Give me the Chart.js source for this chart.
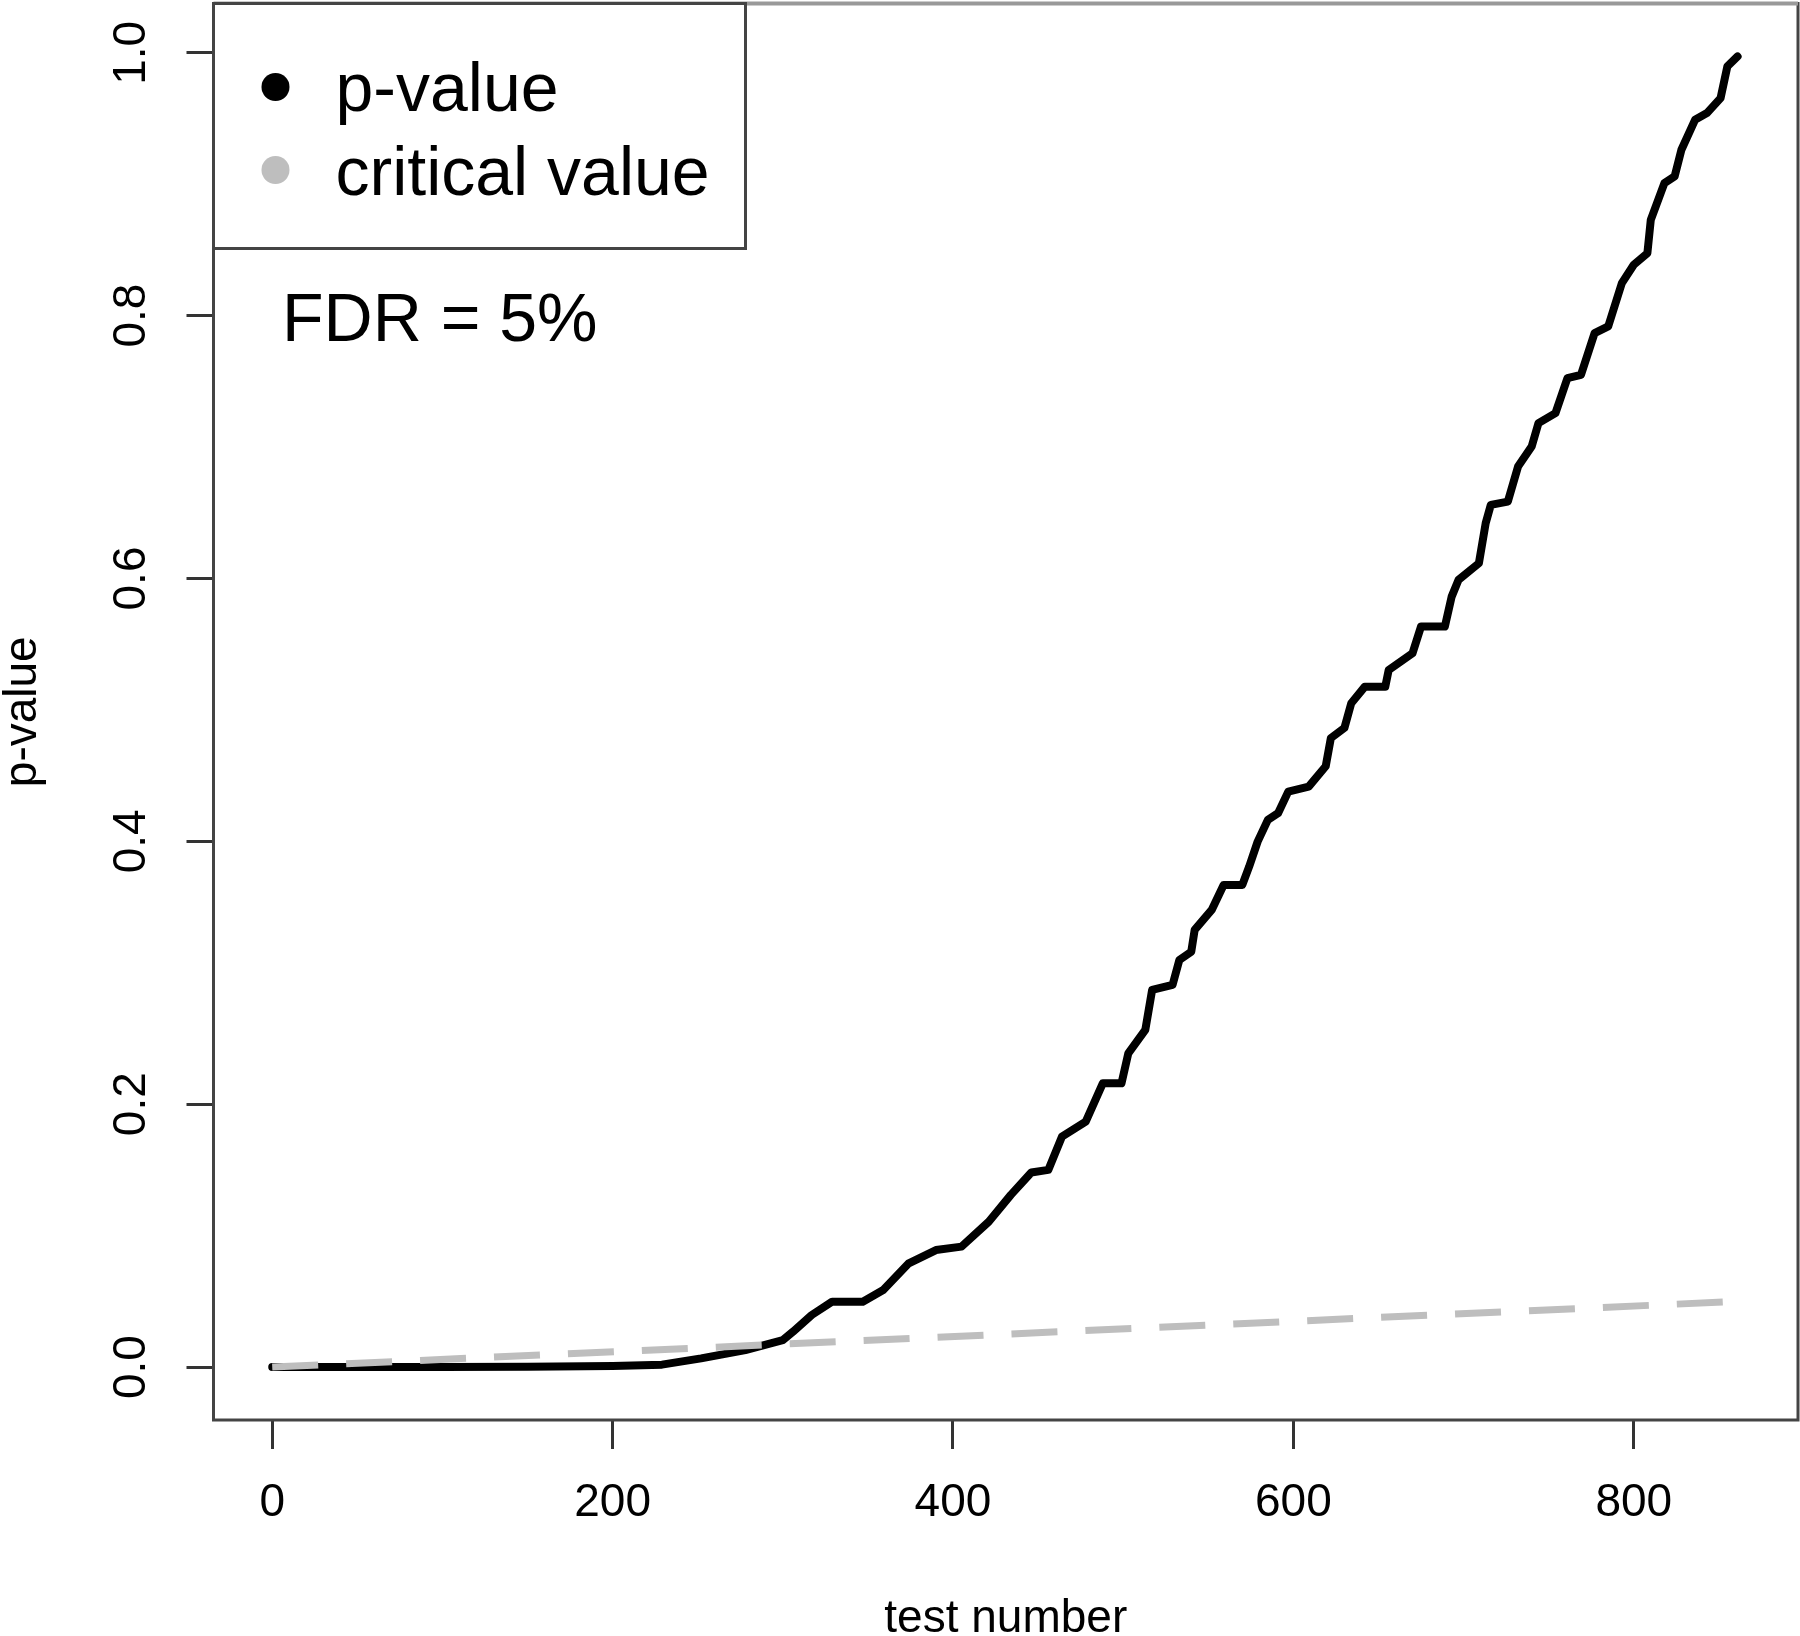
<!DOCTYPE html>
<html>
<head>
<meta charset="utf-8">
<script src="https://cdn.jsdelivr.net/npm/chart.js@4.4.1/dist/chart.umd.min.js"></script>
<style>
  html, body { margin: 0; padding: 0; background: #fff; }
  #wrap { width: 1800px; height: 1636px; }
</style>
</head>
<body>
<div id="wrap"><canvas id="chart" width="1800" height="1636"></canvas></div>
<script>
// sorted p-values
const testNumber = [0, 50, 100, 150, 200, 229, 252, 278, 300, 306, 317, 329, 347, 359, 374, 390, 405, 421, 434, 446, 456, 464, 478, 488, 499, 503, 513, 517, 529, 533, 540, 542, 552, 559, 570, 574, 579, 585, 591, 597, 609, 619, 622, 630, 634, 642, 654, 656, 670, 675, 689, 693, 697, 709, 713, 716, 726, 732, 740, 744, 754, 761, 769, 777, 785, 793, 800, 808, 810, 818, 824, 828, 836, 843, 851, 855, 861];
const pValue = [0, 0, 0.0001, 0.0003, 0.0008, 0.0018, 0.0066, 0.0129, 0.0205, 0.0269, 0.0396, 0.0497, 0.0497, 0.0586, 0.0789, 0.089, 0.0916, 0.1106, 0.131, 0.148, 0.150, 0.1753, 0.1867, 0.2159, 0.2159, 0.2387, 0.2565, 0.2869, 0.2907, 0.3097, 0.316, 0.3326, 0.3478, 0.3668, 0.3668, 0.3807, 0.3998, 0.4163, 0.4214, 0.4378, 0.4416, 0.4571, 0.4785, 0.4863, 0.5051, 0.5177, 0.5177, 0.5304, 0.5431, 0.5634, 0.5634, 0.5862, 0.5989, 0.6116, 0.6421, 0.656, 0.6585, 0.6852, 0.7004, 0.7182, 0.7258, 0.7524, 0.755, 0.7867, 0.7918, 0.8247, 0.8387, 0.8475, 0.8729, 0.9008, 0.9059, 0.9262, 0.949, 0.9541, 0.9655, 0.9896, 0.9972];

// BH critical value line (ends)
const criticalX = [0, 862];
const criticalY = [0, 0.05];

const xTicks = [0, 200, 400, 600, 800];
const yTicks = [0, 0.2, 0.4, 0.6, 0.8, 1.0];
const yTickLabels = ['0.0', '0.2', '0.4', '0.6', '0.8', '1.0'];

const seriesNames = ['p-value', 'critical value'];
const seriesColors = ['#000000', '#bebebe'];
const noteText = 'FDR = 5%';

Chart.defaults.font.family = '"Liberation Sans", Arial, Helvetica, sans-serif';
Chart.defaults.color = '#000';

// box round the plot region, legend box and FDR note
const framePlugin = {
  id: 'frame',
  afterDraw(chart) {
    const ctx = chart.ctx;
    const a = chart.chartArea;
    ctx.save();
    ctx.strokeStyle = '#444';
    ctx.lineWidth = 3;
    ctx.strokeRect(a.left, a.top, a.right - a.left, a.bottom - a.top);
    // top edge is lighter in the original
    ctx.strokeStyle = '#999';
    ctx.lineWidth = 4;
    ctx.beginPath();
    ctx.moveTo(a.left, a.top);
    ctx.lineTo(a.right, a.top);
    ctx.stroke();

    // legend
    ctx.strokeStyle = '#444';
    ctx.lineWidth = 3;
    const lx = a.left, ly = a.top, lw = 532, lh = 245;
    ctx.fillStyle = '#fff';
    ctx.fillRect(lx, ly, lw, lh);
    ctx.strokeRect(lx, ly, lw, lh);
    ctx.font = '68px "Liberation Sans", Arial, sans-serif';
    ctx.textBaseline = 'alphabetic';
    const rows = [[87, 111], [170, 195]];
    seriesNames.forEach((name, i) => {
      ctx.fillStyle = seriesColors[i];
      ctx.beginPath();
      ctx.arc(lx + 62, rows[i][0], 14, 0, Math.PI * 2);
      ctx.fill();
      ctx.fillStyle = '#000';
      ctx.fillText(name, lx + 122, rows[i][1]);
    });

    ctx.fillText(noteText, 282, 341);
    ctx.restore();
  }
};

new Chart(document.getElementById('chart'), {
  type: 'scatter',
  data: {
    datasets: [
      {
        label: seriesNames[0],
        data: testNumber.map((x, i) => ({ x: x, y: pValue[i] })),
        showLine: true,
        borderColor: seriesColors[0],
        borderWidth: 8,
        borderJoinStyle: 'round',
        borderCapStyle: 'round',
        pointRadius: 0,
        order: 2
      },
      {
        label: seriesNames[1],
        data: criticalX.map((x, i) => ({ x: x, y: criticalY[i] })),
        showLine: true,
        borderColor: seriesColors[1],
        borderWidth: 7,
        borderDash: [46, 28],
        borderCapStyle: 'butt',
        pointRadius: 0,
        order: 1
      }
    ]
  },
  options: {
    responsive: false,
    animation: false,
    devicePixelRatio: 1,
    layout: { padding: { top: 3.5, right: 2, left: 0, bottom: 0 } },
    plugins: {
      legend: { display: false },
      tooltip: { enabled: false }
    },
    scales: {
      x: {
        type: 'linear',
        min: -34.5,
        max: 896.5,
        bounds: 'data',
        afterBuildTicks: s => { s.ticks = xTicks.map(v => ({ value: v })); },
        afterFit: s => { s.height = 216; s.paddingLeft = 0; s.paddingRight = 0; },
        ticks: { font: { size: 46 }, color: '#000', padding: 27, maxRotation: 0, minRotation: 0, autoSkip: false },
        grid: { drawOnChartArea: false, drawTicks: true, tickLength: 29, color: '#333', lineWidth: 3 },
        border: { display: false },
        title: { display: true, text: 'test number', color: '#000', font: { size: 46, lineHeight: 0.74 }, padding: 0 }
      },
      y: {
        type: 'linear',
        min: -0.0403,
        max: 1.0375,
        bounds: 'data',
        afterBuildTicks: s => { s.ticks = yTicks.map(v => ({ value: v })); },
        afterFit: s => { s.width = 213.5; s.paddingTop = 0; s.paddingBottom = 0; },
        ticks: {
          callback: (v, i) => yTickLabels[i],
          font: { size: 46 },
          color: '#000',
          minRotation: 90,
          maxRotation: 90,
          crossAlign: 'center',
          padding: 22,
          autoSkip: false
        },
        grid: { drawOnChartArea: false, drawTicks: true, tickLength: 27, color: '#333', lineWidth: 3 },
        border: { display: false },
        title: { display: true, text: 'p-value', color: '#000', font: { size: 46, lineHeight: 1.0 }, padding: 0 }
      }
    }
  },
  plugins: [framePlugin]
});
</script>
</body>
</html>
